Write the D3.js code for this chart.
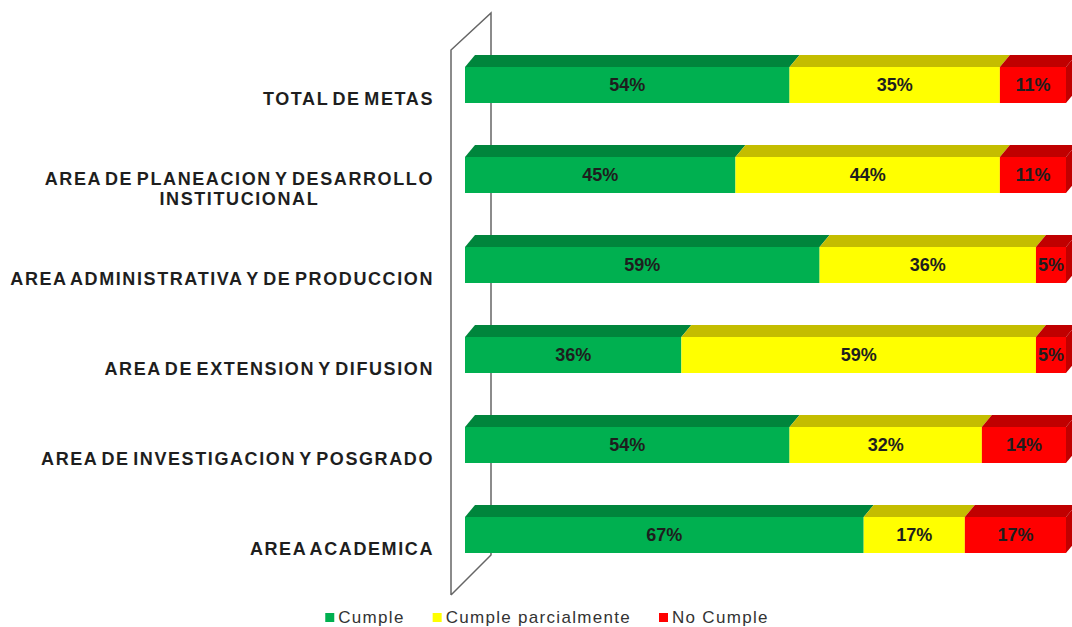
<!DOCTYPE html>
<html>
<head>
<meta charset="utf-8">
<script src="https://cdn.jsdelivr.net/npm/d3@7"></script>
<style>
    body { margin: 0; background: #fff; }
    svg { display: block; font-family: 'Liberation Sans', Arial, sans-serif; }
    .label { font-size: 18px; font-weight: bold; fill: #1e1e1e; letter-spacing: 1.6px; word-spacing: -3px; }
    .value { font-size: 18px; font-weight: bold; fill: #1e1e1e; }
    .legend text { font-size: 17px; fill: #333; letter-spacing: 1.3px; }
</style>
</head>
<body>
<script>
(function () {

    'use strict'

    const width = 1072
        , height = 627

    // categories, top to bottom
    const categories = [
        'TOTAL DE METAS',
        'AREA DE PLANEACION Y DESARROLLO INSTITUCIONAL',
        'AREA ADMINISTRATIVA Y DE PRODUCCION',
        'AREA DE EXTENSION Y DIFUSION',
        'AREA DE INVESTIGACION Y POSGRADO',
        'AREA ACADEMICA'
    ]

    // series values (percent)
    const cumple = [54, 45, 59, 36, 54, 67]
    const cumpleParcial = [35, 44, 36, 59, 32, 17]
    const noCumple = [11, 11, 5, 5, 14, 17]

    const seriesNames = ['Cumple', 'Cumple parcialmente', 'No Cumple']
    const frontColors = ['#00b050', '#ffff00', '#ff0000']
    const topColors = ['#00853c', '#c4bd00', '#c00000']

    // depth of the 3d bars
    const dx = 10, dy = 12

    const rows = categories.map((c, i) => ({
        category: c,
        'Cumple': cumple[i],
        'Cumple parcialmente': cumpleParcial[i],
        'No Cumple': noCumple[i]
    }))

    const stacked = d3.stack()
        .keys(seriesNames)
        .offset(d3.stackOffsetExpand)(rows)

    const svg = d3.select('body')
        .append('svg')
        .attr('width', width)
        .attr('height', height)

    const xScale = d3.scaleLinear()
        .domain([0, 1])
        .range([465, 1066])

    const yScale = d3.scaleBand()
        .domain(categories)
        .range([40, 580])
        .paddingInner(0.6)
        .paddingOuter(0.3)

    const color = d3.scaleOrdinal().domain(seriesNames).range(frontColors)
    const topColor = d3.scaleOrdinal().domain(seriesNames).range(topColors)

    // side wall of the 3d plot area
    const wallTop = 50, wallBottom = 595, wallX = 451, wallDepth = 40
    svg.append('path')
        .attr('d', d3.line()([
            [wallX, wallBottom],
            [wallX, wallTop],
            [wallX + wallDepth, wallTop - 37],
            [wallX + wallDepth, wallBottom - 40],
            [wallX, wallBottom]
        ]))
        .attr('fill', '#fff')
        .attr('stroke', '#666')
        .attr('stroke-width', 1.5)

    const bh = yScale.bandwidth()

    const layers = svg.selectAll('.layer')
        .data(stacked)
        .enter()
        .append('g')
        .attr('class', 'layer')

    // top faces
    layers.selectAll('.top')
        .data(d => d.map(s => ({ key: d.key, s: s })))
        .enter()
        .append('path')
        .attr('class', 'top')
        .attr('fill', d => topColor(d.key))
        .attr('d', d => {
            const y = yScale(d.s.data.category)
            const x0 = xScale(d.s[0]), x1 = xScale(d.s[1])
            return d3.line()([[x0, y], [x0 + dx, y - dy], [x1 + dx, y - dy], [x1, y]]) + 'Z'
        })

    // front faces
    layers.selectAll('.front')
        .data(d => d.map(s => ({ key: d.key, s: s })))
        .enter()
        .append('rect')
        .attr('class', 'front')
        .attr('x', d => xScale(d.s[0]))
        .attr('y', d => yScale(d.s.data.category))
        .attr('width', d => xScale(d.s[1]) - xScale(d.s[0]))
        .attr('height', bh)
        .attr('fill', d => color(d.key))

    // right side face of the last segment
    const last = stacked[stacked.length - 1]
    svg.selectAll('.side')
        .data(last)
        .enter()
        .append('path')
        .attr('class', 'side')
        .attr('fill', topColor(last.key))
        .attr('d', s => {
            const y = yScale(s.data.category)
            const x = xScale(s[1])
            return d3.line()([[x, y], [x + dx, y - dy], [x + dx, y + bh - dy], [x, y + bh]]) + 'Z'
        })

    // value labels
    layers.selectAll('.value')
        .data(d => d.map(s => ({ key: d.key, s: s })))
        .enter()
        .append('text')
        .attr('class', 'value')
        .attr('x', d => (xScale(d.s[0]) + xScale(d.s[1])) / 2)
        .attr('y', d => yScale(d.s.data.category) + bh / 2)
        .attr('dy', '0.36em')
        .attr('text-anchor', 'middle')
        .text(d => d.s.data[d.key] + '%')

    // category axis
    const yAxis = svg.append('g')
        .attr('transform', 'translate(434,14)')
        .call(d3.axisLeft(yScale).tickSize(0).tickPadding(0))

    yAxis.select('.domain').remove()
    yAxis.selectAll('text')
        .attr('class', 'label')
        .attr('font-size', null)
        .attr('font-family', null)
        .call(wrap, 440)

    // legend
    const legend = svg.append('g').attr('class', 'legend')
    let lx = 0
    seriesNames.forEach((name, i) => {
        const g = legend.append('g').attr('transform', 'translate(' + lx + ',0)')
        g.append('rect')
            .attr('x', 0)
            .attr('y', 613)
            .attr('width', 9)
            .attr('height', 9)
            .attr('fill', frontColors[i])
        const t = g.append('text')
            .attr('x', 13)
            .attr('y', 623)
            .text(name)
        lx += 13 + t.node().getComputedTextLength() + 28
    })
    legend.attr('transform', 'translate(' + (547 - (lx - 28) / 2) + ',0)')

    // splits long labels into centered lines
    function wrap(texts, maxWidth) {
        texts.each(function () {
            const text = d3.select(this)
            if (this.getComputedTextLength() <= maxWidth) return
            const words = text.text().split(' ')
            const lines = []
            let current = []
            text.text(null)
            const probe = text.append('tspan')
            words.forEach(w => {
                probe.text(current.concat(w).join(' '))
                if (probe.node().getComputedTextLength() > maxWidth && current.length) {
                    lines.push(current.join(' '))
                    current = [w]
                } else {
                    current.push(w)
                }
            })
            lines.push(current.join(' '))
            probe.text(lines[0])
            const w0 = probe.node().getComputedTextLength()
            probe.remove()
            const lh = 20
            const y0 = -(lines.length - 1) * lh / 2
            text.attr('text-anchor', 'middle')
            lines.forEach((l, i) => {
                text.append('tspan')
                    .attr('x', -w0 / 2)
                    .attr('y', y0 + i * lh)
                    .attr('dy', '0.36em')
                    .text(l)
            })
        })
    }
})()
</script>
</body>
</html>
